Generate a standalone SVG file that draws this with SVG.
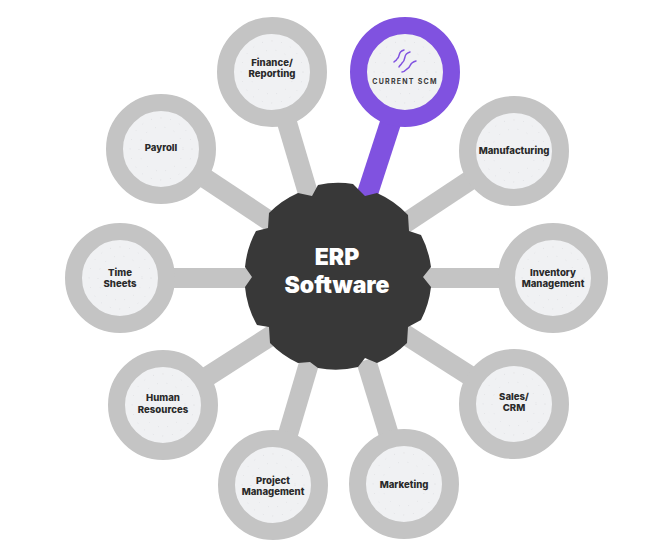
<svg xmlns="http://www.w3.org/2000/svg" width="672" height="552" viewBox="0 0 672 552">
<style>
.spoke{stroke:#c4c4c4;stroke-width:20;fill:none}
.ring{fill:#f0f1f3;stroke:#c4c4c4;stroke-width:17}
.lbl{font-family:Inter,"Liberation Sans",sans-serif;font-weight:800;font-size:9.6px;fill:#2a2a2a;text-anchor:middle}
.dots{fill:none;stroke:#d2d4d8;stroke-width:.7;stroke-dasharray:.7 9}
.hub{font-family:Inter,"Liberation Sans",sans-serif;font-weight:900;font-size:23px;fill:#fff;text-anchor:middle}
</style>
<defs>
<g id="tex"><circle class="dots" r="31"/><circle class="dots" r="22"/></g>
</defs>
<rect width="672" height="552" fill="#fff"/>
<g id="connectors">
<line class="spoke" x1="272" y1="72" x2="310" y2="200"/>
<line class="spoke" x1="161" y1="149" x2="280" y2="228"/>
<line class="spoke" x1="120" y1="278" x2="255" y2="278"/>
<line class="spoke" x1="163" y1="405" x2="280" y2="330"/>
<line class="spoke" x1="273" y1="485" x2="310" y2="360"/>
<line class="spoke" x1="404" y1="484" x2="366" y2="360"/>
<line class="spoke" x1="514" y1="404" x2="395" y2="328"/>
<line class="spoke" x1="553" y1="278" x2="420" y2="278"/>
<line class="spoke" x1="514" y1="151" x2="395" y2="230"/>
<line x1="407" y1="72" x2="366" y2="198" stroke="#8052e0" stroke-width="21"/>
</g>
<g id="hub">
<path fill="#383838" d="M318 185 A94 94 0 0 1 353 184 L365 196 L377 193 A94 94 0 0 1 408 215 L409 231 L421 235 A94 94 0 0 1 431 267 L423 277 L431 287 A94 94 0 0 1 421 320 L408 327 L407 343 A94 94 0 0 1 377 363 L365 358 L358 367 A94 94 0 0 1 318 368 L310 362 L298 363 A94 94 0 0 1 270 343 L269 327 L257 325 A94 94 0 0 1 245 287 L252 277 L245 267 A94 94 0 0 1 256 231 L268 228 L269 213 A94 94 0 0 1 298 193 L312 196 Z"/>
<text class="hub" x="337" y="265">ERP</text>
<text class="hub" x="337" y="293">Software</text>
</g>
<g id="finance"><circle class="ring" cx="272" cy="72" r="46.5"/><use href="#tex" x="272" y="72"/><text class="lbl" x="272" y="66">Finance/</text><text class="lbl" x="272" y="77">Reporting</text></g>
<g id="current-scm"><circle cx="405" cy="72" r="46.5" fill="#f0f1f3" stroke="#8052e0" stroke-width="17"/><use href="#tex" x="405" y="72"/>
<g fill="none" stroke="#8052e0" stroke-width="1.5" stroke-linecap="round"><path d="M404 50 C397 52 401 56 397 59 C396 61 395 61 394 62"/><path d="M410 52 C402 54 407 60 402 63 C401 65 399 66 399 67"/><path d="M416 61 C408 63 412 67 407 69 C405 71 403 72 402 72"/></g>
<text x="405" y="84" font-family="Inter,'Liberation Sans',sans-serif" font-weight="700" font-size="7" letter-spacing="1.25" fill="#3a3a3a" text-anchor="middle">CURRENT SCM</text></g>
<g id="manufacturing"><circle class="ring" cx="514" cy="151" r="46.5"/><use href="#tex" x="514" y="151"/><text class="lbl" x="514" y="154">Manufacturing</text></g>
<g id="inventory"><circle class="ring" cx="553" cy="278" r="46.5"/><use href="#tex" x="553" y="278"/><text class="lbl" x="553" y="276">Inventory</text><text class="lbl" x="553" y="287">Management</text></g>
<g id="sales"><circle class="ring" cx="514" cy="404" r="46.5"/><use href="#tex" x="514" y="404"/><text class="lbl" x="514" y="400">Sales/</text><text class="lbl" x="514" y="411">CRM</text></g>
<g id="marketing"><circle class="ring" cx="404" cy="484" r="46.5"/><use href="#tex" x="404" y="484"/><text class="lbl" x="404" y="488">Marketing</text></g>
<g id="project"><circle class="ring" cx="273" cy="485" r="46.5"/><use href="#tex" x="273" y="485"/><text class="lbl" x="273" y="484">Project</text><text class="lbl" x="273" y="495">Management</text></g>
<g id="human"><circle class="ring" cx="163" cy="405" r="46.5"/><use href="#tex" x="163" y="405"/><text class="lbl" x="163" y="401">Human</text><text class="lbl" x="163" y="413">Resources</text></g>
<g id="time"><circle class="ring" cx="120" cy="278" r="46.5"/><use href="#tex" x="120" y="278"/><text class="lbl" x="120" y="276">Time</text><text class="lbl" x="120" y="287">Sheets</text></g>
<g id="payroll"><circle class="ring" cx="161" cy="149" r="46.5"/><use href="#tex" x="161" y="149"/><text class="lbl" x="161" y="151">Payroll</text></g>
</svg>
